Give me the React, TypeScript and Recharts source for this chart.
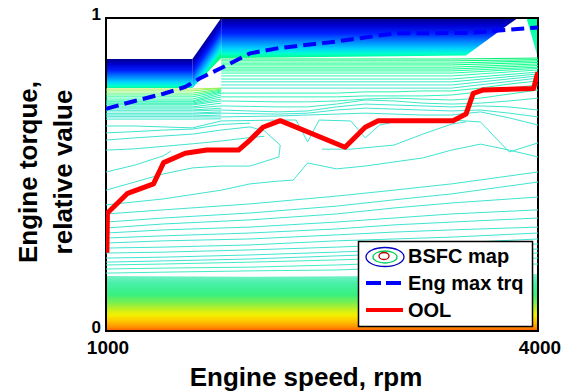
import { ComposedChart, Line, Area, XAxis, YAxis, ReferenceArea } from 'recharts';

type Pt = [number, number];

const speedTicks = [1000, 4000];
const torqueTicks = [0, 1];

// engine full-load curve, relative torque
const engMaxTrq: Pt[] = [
  [1000, 0.71], [1200, 0.735], [1400, 0.758], [1550, 0.78], [1650, 0.807], [1800, 0.84],
  [2000, 0.887], [2200, 0.904], [2600, 0.925], [3000, 0.951], [3500, 0.952], [4000, 0.97],
];

// optimal operating line
const oolCurve: Pt[] = [
  [1006, 0.25], [1010, 0.377], [1150, 0.44], [1330, 0.47], [1400, 0.538], [1550, 0.568],
  [1700, 0.578], [1920, 0.578], [2000, 0.61], [2090, 0.651], [2210, 0.672], [2660, 0.587],
  [2800, 0.651], [2890, 0.672], [3410, 0.672], [3500, 0.693], [3550, 0.759], [3620, 0.77],
  [3970, 0.775], [3990, 0.812], [4000, 0.827],
];

// filled (dense) parts of the map: [rpm, low, high]
const bandTopLeft = [[1000, 0.776, 0.869], [1600, 0.776, 0.869]];
const bandTopDiag = [[1600, 0.776, 0.869], [1800, 0.872, 1]];
const bandTopRight = [[1800, 0.872, 1], [3500, 0.88, 1], [3600, 0.914, 1], [3800, 0.981, 1], [3860, 1, 1]];
const bandSpike = [[3920, 1, 1], [4000, 0.872, 1]];
const bandBottom = [[1000, 0, 0.176], [2000, 0, 0.173], [3000, 0, 0.176], [4000, 0, 0.182]];

// dense green contours under the top band, right part
const denseRight: Pt[][] = [
  [[1800, 0.869], [3400, 0.869], [4000, 0.872]],
  [[1800, 0.863], [3400, 0.863], [4000, 0.867]],
  [[1800, 0.856], [3400, 0.856], [4000, 0.863]],
  [[1800, 0.85], [3400, 0.85], [4000, 0.858]],
  [[1800, 0.843], [3400, 0.843], [4000, 0.853]],
  [[1800, 0.837], [3400, 0.837], [4000, 0.848]],
  [[1800, 0.831], [3400, 0.831], [4000, 0.843]],
  [[1800, 0.824], [3400, 0.824], [4000, 0.839]],
  [[1800, 0.815], [3400, 0.815], [4000, 0.834]],
  [[1800, 0.805], [3400, 0.805], [4000, 0.827]],
  [[1800, 0.796], [3400, 0.796], [4000, 0.821]],
  [[1800, 0.786], [3400, 0.786], [4000, 0.815]],
  [[1800, 0.776], [3400, 0.776], [4000, 0.808]],
];
const denseRightColors = ['#00f070', '#00f878', '#00ff80', '#00ff80', '#10ff88', '#10ff90', '#20ff98',
  '#20ffa0', '#30f8b0', '#30f0b8', '#38ecc0', '#40e8c8', '#40e6cc'];

// dense contours under the top band, left part
const denseLeft: Pt[][] = [
  [[1000, 0.773], [1600, 0.773], [1800, 0.776]],
  [[1000, 0.767], [1600, 0.767], [1800, 0.776]],
  [[1000, 0.76], [1600, 0.76], [1800, 0.773]],
  [[1000, 0.754], [1600, 0.754], [1800, 0.77]],
  [[1000, 0.748], [1600, 0.748], [1800, 0.767]],
  [[1000, 0.741], [1600, 0.741], [1800, 0.764]],
  [[1000, 0.732], [1600, 0.732], [1800, 0.754]],
  [[1000, 0.725], [1600, 0.725], [1800, 0.741]],
  [[1000, 0.716], [1600, 0.716], [1800, 0.728]],
  [[1000, 0.706], [1600, 0.706], [1800, 0.712]],
  [[1000, 0.696], [1600, 0.696], [1800, 0.7]],
  [[1000, 0.687], [1600, 0.687], [1800, 0.69]],
  [[1000, 0.677], [1600, 0.677], [1800, 0.678]],
];
const denseLeftColors = ['#a8f048', '#88f458', '#60f870', '#40fa88', '#20fa98', '#20f8a8', '#20f8a8',
  '#28f4b0', '#30f0b8', '#38ecc0', '#40e8c8', '#40e6cc', '#40e6d0'];

// contours running from the left block across the map
const midUpper: Pt[][] = [
  [[1000, 0.735], [1600, 0.735], [1800, 0.76], [2200, 0.76], [2600, 0.76], [2800, 0.764], [3000, 0.764],
    [3200, 0.767], [3400, 0.767], [3600, 0.776], [3800, 0.789], [4000, 0.799]],
  [[1000, 0.728], [1600, 0.728], [1800, 0.748], [2200, 0.748], [2600, 0.748], [2800, 0.751], [3000, 0.751],
    [3200, 0.751], [3400, 0.754], [3600, 0.764], [3800, 0.776], [4000, 0.786]],
  [[1000, 0.722], [1600, 0.722], [1800, 0.735], [2200, 0.732], [2400, 0.732], [2600, 0.735], [2800, 0.741],
    [3000, 0.744], [3200, 0.741], [3400, 0.738], [3600, 0.744], [3800, 0.757], [4000, 0.77]],
  [[1000, 0.712], [1600, 0.712], [1800, 0.719], [2200, 0.716], [2400, 0.716], [2600, 0.725], [2800, 0.738],
    [3000, 0.735], [3200, 0.728], [3400, 0.725], [3600, 0.728], [3800, 0.735], [4000, 0.744]],
  [[1000, 0.703], [1600, 0.703], [1800, 0.706], [2200, 0.7], [2400, 0.703], [2600, 0.716], [2800, 0.725],
    [3000, 0.722], [3200, 0.719], [3400, 0.716], [3600, 0.719], [3800, 0.716], [4000, 0.706]],
  [[1000, 0.693], [1600, 0.693], [1800, 0.696], [2200, 0.693], [2400, 0.696], [2600, 0.706], [2800, 0.712],
    [3000, 0.709], [3200, 0.706], [3400, 0.703], [3600, 0.706], [3800, 0.696], [4000, 0.684]],
  [[1000, 0.684], [1600, 0.684], [1800, 0.684], [2200, 0.687], [2400, 0.69], [2600, 0.693], [2800, 0.696],
    [3000, 0.693], [3200, 0.69], [3400, 0.69], [3600, 0.7], [3800, 0.681], [4000, 0.658]],
];
const midUpperColors = ['#28f4b0', '#30f0b8', '#38ecc0', '#40e8c8', '#40e6cc', '#40e6d0', '#40e4d0'];

// contours around the low-consumption islands
const islandLines: Pt[][] = [
  [[1000, 0.655], [1200, 0.655], [1400, 0.652], [1600, 0.649], [1800, 0.671], [2200, 0.674], [2320, 0.674],
    [2400, 0.604], [2480, 0.674], [2700, 0.671], [2800, 0.617], [2900, 0.658], [3000, 0.668], [3400, 0.674],
    [3600, 0.668], [3800, 0.572], [4000, 0.601]],
  [[1000, 0.633], [1200, 0.637], [1400, 0.642], [1600, 0.645], [1800, 0.66], [2000, 0.664]],
  [[1000, 0.45], [1200, 0.476], [1400, 0.502], [1600, 0.521], [1800, 0.527], [2000, 0.527], [2200, 0.556],
    [2210, 0.594], [2100, 0.639], [2000, 0.652], [1800, 0.642], [1600, 0.629], [1400, 0.623], [1200, 0.617],
    [1000, 0.61]],
  [[1000, 0.578], [1200, 0.582], [1400, 0.59], [1600, 0.598], [1800, 0.607], [2000, 0.618], [2100, 0.622]],
  [[1000, 0.508], [1200, 0.53], [1400, 0.56], [1450, 0.575]],
  [[2500, 0.581], [2700, 0.581], [3000, 0.594], [3200, 0.629], [3400, 0.661], [3500, 0.668]],
  [[1000, 0.403], [1400, 0.422], [1800, 0.45], [2000, 0.47], [2200, 0.479], [2300, 0.482], [2400, 0.537],
    [2600, 0.518], [2800, 0.527], [3000, 0.54], [3200, 0.553], [3400, 0.578], [3600, 0.597], [3800, 0.578],
    [4000, 0.556]],
];

// lower contours, speeds of the points
const lowerSpeeds = [1000, 1400, 2000, 2600, 3000, 3400, 4000];
const lowerLevels = [
  [0.185, 0.188, 0.192, 0.195, 0.201, 0.208, 0.214],
  [0.198, 0.201, 0.204, 0.211, 0.217, 0.224, 0.233],
  [0.211, 0.214, 0.22, 0.227, 0.233, 0.24, 0.249],
  [0.22, 0.224, 0.23, 0.24, 0.246, 0.252, 0.262],
  [0.233, 0.236, 0.243, 0.252, 0.259, 0.265, 0.278],
  [0.249, 0.252, 0.259, 0.268, 0.275, 0.281, 0.294],
  [0.265, 0.268, 0.275, 0.288, 0.294, 0.3, 0.313],
  [0.281, 0.288, 0.294, 0.307, 0.316, 0.323, 0.332],
  [0.297, 0.304, 0.313, 0.326, 0.339, 0.348, 0.361],
  [0.313, 0.323, 0.332, 0.348, 0.361, 0.374, 0.387],
  [0.329, 0.342, 0.355, 0.374, 0.393, 0.409, 0.428],
  [0.348, 0.361, 0.377, 0.399, 0.419, 0.438, 0.476],
  [0.374, 0.387, 0.406, 0.431, 0.45, 0.47, 0.508],
];

const FONT = '"Liberation Sans", Arial, Helvetica, sans-serif';
const CYAN = '#40e4d0';

const rows = (pts: Pt[]) => pts.map(([x, y]) => ({ x, y }));
const bandRows = (b: number[][]) => b.map(([x, lo, hi]) => ({ x, r: [lo, hi] }));

function XTick({ x, payload }: any) {
  return (
    <text x={x + 2} y={354} textAnchor="middle" fontFamily={FONT} fontWeight="bold" fontSize={19} fill="#000">
      {payload.value}
    </text>
  );
}

function YTick({ y, payload }: any) {
  return (
    <text x={101} y={y + 2} textAnchor="end" fontFamily={FONT} fontWeight="bold" fontSize={17} fill="#000">
      {payload.value}
    </text>
  );
}

function XTitle() {
  return (
    <text x={306} y={386} textAnchor="middle" fontFamily={FONT} fontWeight="bold" fontSize={26} fill="#000">
      Engine speed, rpm
    </text>
  );
}

function YTitle() {
  return (
    <g fontFamily={FONT} fontWeight="bold" fontSize={26} fill="#000" textAnchor="middle">
      <text x={37} y={172} transform="rotate(-90 37 172)">Engine torque,</text>
      <text x={72} y={172} transform="rotate(-90 72 172)">relative value</text>
    </g>
  );
}

function contour(key: string, pts: Pt[], color: string) {
  return (
    <Line
      key={key}
      data={rows(pts)}
      dataKey="y"
      type="linear"
      stroke={color}
      strokeWidth={1}
      dot={false}
      activeDot={false}
      isAnimationActive={false}
    />
  );
}

function band(key: string, b: number[][], fill: string) {
  return (
    <Area
      key={key}
      data={bandRows(b)}
      dataKey="r"
      type="linear"
      stroke="none"
      fill={fill}
      fillOpacity={1}
      dot={false}
      activeDot={false}
      isAnimationActive={false}
    />
  );
}

function Legend() {
  return (
    <svg width={562} height={392} style={{ position: 'absolute', left: 0, top: 0, pointerEvents: 'none' }}>
      <rect x={358.5} y={241.5} width={174} height={85} fill="#fff" stroke="#000" strokeWidth={1.5} />
      <ellipse cx={385} cy={257} rx={19} ry={9.5} fill="none" stroke="#0000c0" strokeWidth={1.3} />
      <ellipse cx={385} cy={257} rx={12} ry={6} fill="none" stroke="#00d060" strokeWidth={1.3} />
      <ellipse cx={384} cy={256} rx={5} ry={3.5} fill="none" stroke="#b00000" strokeWidth={1.3} />
      <line x1={366} y1={283} x2={403} y2={283} stroke="#0000ff" strokeWidth={4} strokeDasharray="15 5" />
      <line x1={366} y1={310} x2={403} y2={310} stroke="#ff0000" strokeWidth={4} />
      <g fontFamily={FONT} fontWeight="bold" fontSize={20} fill="#000">
        <text x={408} y={263}>BSFC map</text>
        <text x={408} y={290}>Eng max trq</text>
        <text x={408} y={317}>OOL</text>
      </g>
    </svg>
  );
}

const topStops = [
  ['0%', '#000090'], ['18%', '#0000d0'], ['38%', '#0020ff'], ['58%', '#0080ff'],
  ['76%', '#00d0ff'], ['89%', '#00ffd0'], ['100%', '#00ff80'],
];

export default function App() {
  return (
    <div style={{ position: 'absolute', left: 0, top: 0, width: 562, height: 392, background: '#fff' }}>
      <ComposedChart width={562} height={392} margin={{ top: 18, right: 24, bottom: 31, left: 56 }}>
        <defs>
          <linearGradient id="gTopL" gradientUnits="userSpaceOnUse" x1="0" y1="59" x2="0" y2="89">
            {topStops.map(([o, c]) => <stop key={o} offset={o} stopColor={c} />)}
          </linearGradient>
          <linearGradient id="gTopD" gradientUnits="userSpaceOnUse" x1="192" y1="59" x2="209" y2="71">
            {topStops.map(([o, c]) => <stop key={o} offset={o} stopColor={c} />)}
          </linearGradient>
          <linearGradient id="gTopR" gradientUnits="userSpaceOnUse" x1="0" y1="18" x2="0" y2="58">
            {topStops.map(([o, c]) => <stop key={o} offset={o} stopColor={c} />)}
          </linearGradient>
          <linearGradient id="gSpike" x1="0" y1="0" x2="0" y2="1">
            <stop offset="0%" stopColor="#00ffa0" />
            <stop offset="100%" stopColor="#20ffc0" />
          </linearGradient>
          <linearGradient id="gBottom" x1="0" y1="0" x2="0" y2="1">
            <stop offset="0%" stopColor="#80f2d0" />
            <stop offset="16%" stopColor="#48f0a8" />
            <stop offset="36%" stopColor="#38f080" />
            <stop offset="50%" stopColor="#78f050" />
            <stop offset="62%" stopColor="#c4f020" />
            <stop offset="72%" stopColor="#f4f000" />
            <stop offset="82%" stopColor="#ffc800" />
            <stop offset="92%" stopColor="#ff9800" />
            <stop offset="100%" stopColor="#ff5800" />
          </linearGradient>
        </defs>
        <XAxis
          dataKey="x"
          type="number"
          domain={[1000, 4000]}
          ticks={speedTicks}
          allowDataOverflow
          height={30}
          axisLine={false}
          tickLine={false}
          tick={<XTick />}
          label={<XTitle />}
        />
        <YAxis
          type="number"
          domain={[0, 1]}
          ticks={torqueTicks}
          allowDataOverflow
          width={50}
          axisLine={false}
          tickLine={false}
          tick={<YTick />}
          label={<YTitle />}
        />
        {band('bl', bandTopLeft, 'url(#gTopL)')}
        {band('bd', bandTopDiag, 'url(#gTopD)')}
        {band('br', bandTopRight, 'url(#gTopR)')}
        {band('bs', bandSpike, 'url(#gSpike)')}
        {band('bb', bandBottom, 'url(#gBottom)')}
        {denseRight.map((p, i) => contour(`dr${i}`, p, denseRightColors[i]))}
        {denseLeft.map((p, i) => contour(`dl${i}`, p, denseLeftColors[i]))}
        {midUpper.map((p, i) => contour(`mu${i}`, p, midUpperColors[i]))}
        {islandLines.map((p, i) => contour(`is${i}`, p, CYAN))}
        {lowerLevels.map((lv, i) =>
          contour(`lo${i}`, lowerSpeeds.map((s, j) => [s, lv[j]] as Pt), i < 3 ? '#40ecc4' : CYAN),
        )}
        <Line
          data={rows(engMaxTrq)}
          dataKey="y"
          type="linear"
          stroke="#0000ff"
          strokeWidth={4}
          strokeDasharray="13 6"
          dot={false}
          activeDot={false}
          isAnimationActive={false}
        />
        <Line
          data={rows(oolCurve)}
          dataKey="y"
          type="linear"
          stroke="#ff0000"
          strokeWidth={5}
          strokeLinejoin="round"
          dot={false}
          activeDot={false}
          isAnimationActive={false}
        />
        <ReferenceArea x1={1000} x2={4000} y1={0} y2={1} fill="none" stroke="#000" strokeWidth={2} ifOverflow="visible" />
      </ComposedChart>
      <Legend />
    </div>
  );
}
